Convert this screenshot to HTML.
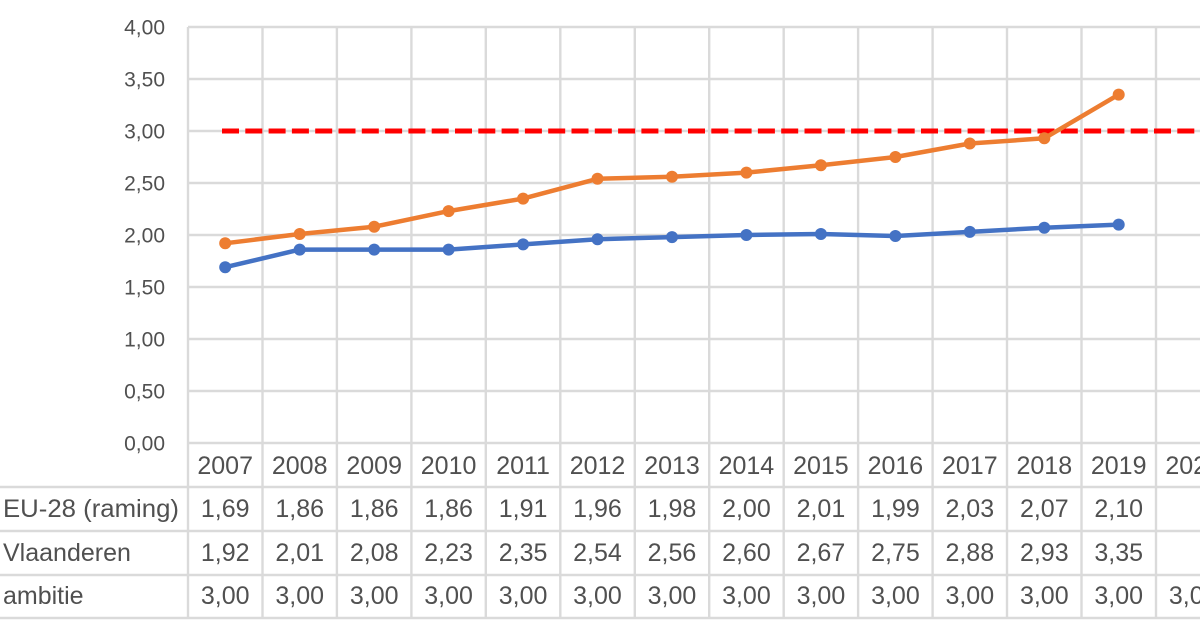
<!DOCTYPE html>
<html>
<head>
<meta charset="utf-8">
<style>
html,body{margin:0;padding:0;background:#fff;}
svg{display:block;}
text{font-family:"Liberation Sans",Arial,sans-serif;fill:#505050;}
</style>
</head>
<body>
<svg width="1200" height="630" viewBox="0 0 1200 630" xmlns="http://www.w3.org/2000/svg">
<rect width="1200" height="630" fill="#fff"/>
<g stroke="#dadada" stroke-width="2.4" fill="none">
  <line x1="188" y1="27" x2="1200" y2="27"/>
  <line x1="188" y1="79" x2="1200" y2="79"/>
  <line x1="188" y1="131" x2="1200" y2="131"/>
  <line x1="188" y1="183" x2="1200" y2="183"/>
  <line x1="188" y1="235" x2="1200" y2="235"/>
  <line x1="188" y1="287" x2="1200" y2="287"/>
  <line x1="188" y1="339" x2="1200" y2="339"/>
  <line x1="188" y1="391" x2="1200" y2="391"/>
  <line x1="188" y1="443" x2="1200" y2="443"/>
  <line x1="0" y1="487" x2="1200" y2="487"/>
  <line x1="0" y1="531" x2="1200" y2="531"/>
  <line x1="0" y1="575" x2="1200" y2="575"/>
  <line x1="0" y1="618" x2="1200" y2="618"/>
  <line x1="188" y1="27" x2="188" y2="618"/>
  <line x1="262.5" y1="27" x2="262.5" y2="618"/>
  <line x1="336.9" y1="27" x2="336.9" y2="618"/>
  <line x1="411.4" y1="27" x2="411.4" y2="618"/>
  <line x1="485.8" y1="27" x2="485.8" y2="618"/>
  <line x1="560.3" y1="27" x2="560.3" y2="618"/>
  <line x1="634.8" y1="27" x2="634.8" y2="618"/>
  <line x1="709.2" y1="27" x2="709.2" y2="618"/>
  <line x1="783.7" y1="27" x2="783.7" y2="618"/>
  <line x1="858.1" y1="27" x2="858.1" y2="618"/>
  <line x1="932.6" y1="27" x2="932.6" y2="618"/>
  <line x1="1007" y1="27" x2="1007" y2="618"/>
  <line x1="1081.5" y1="27" x2="1081.5" y2="618"/>
  <line x1="1156" y1="27" x2="1156" y2="618"/>
</g>

<g font-size="21" text-anchor="end">
  <text x="165" y="34.5">4,00</text>
  <text x="165" y="86.5">3,50</text>
  <text x="165" y="138.5">3,00</text>
  <text x="165" y="190.5">2,50</text>
  <text x="165" y="242.5">2,00</text>
  <text x="165" y="294.5">1,50</text>
  <text x="165" y="346.5">1,00</text>
  <text x="165" y="398.5">0,50</text>
  <text x="165" y="450.5">0,00</text>
</g>

<g fill="#4472C4">
<polyline fill="none" stroke="#4472C4" stroke-width="4.5" stroke-linejoin="round"
 points="225.2,267.2 299.7,249.6 374.2,249.6 448.6,249.6 523.1,244.4 597.5,239.2 672,237.1 746.4,235 820.9,234 895.4,236 969.8,231.9 1044.3,227.7 1118.7,224.6"/>
<circle cx="225.2" cy="267.2" r="6"/><circle cx="299.7" cy="249.6" r="6"/><circle cx="374.2" cy="249.6" r="6"/><circle cx="448.6" cy="249.6" r="6"/><circle cx="523.1" cy="244.4" r="6"/><circle cx="597.5" cy="239.2" r="6"/><circle cx="672" cy="237.1" r="6"/><circle cx="746.4" cy="235" r="6"/><circle cx="820.9" cy="234" r="6"/><circle cx="895.4" cy="236" r="6"/><circle cx="969.8" cy="231.9" r="6"/><circle cx="1044.3" cy="227.7" r="6"/><circle cx="1118.7" cy="224.6" r="6"/>
</g>

<line x1="222" y1="131" x2="1200" y2="131" stroke="#FF0000" stroke-width="5" stroke-dasharray="17 6.3"/>

<g fill="#ED7D31">
<polyline fill="none" stroke="#ED7D31" stroke-width="4.5" stroke-linejoin="round"
 points="225.2,243.3 299.7,234 374.2,226.7 448.6,211.1 523.1,198.6 597.5,178.8 672,176.8 746.4,172.6 820.9,165.3 895.4,157 969.8,143.5 1044.3,138.3 1118.7,94.6"/>
<circle cx="225.2" cy="243.3" r="6"/><circle cx="299.7" cy="234" r="6"/><circle cx="374.2" cy="226.7" r="6"/><circle cx="448.6" cy="211.1" r="6"/><circle cx="523.1" cy="198.6" r="6"/><circle cx="597.5" cy="178.8" r="6"/><circle cx="672" cy="176.8" r="6"/><circle cx="746.4" cy="172.6" r="6"/><circle cx="820.9" cy="165.3" r="6"/><circle cx="895.4" cy="157" r="6"/><circle cx="969.8" cy="143.5" r="6"/><circle cx="1044.3" cy="138.3" r="6"/><circle cx="1118.7" cy="94.6" r="6"/>
</g>

<g font-size="25" text-anchor="middle">
  <text x="225.2" y="474">2007</text><text x="299.7" y="474">2008</text><text x="374.2" y="474">2009</text><text x="448.6" y="474">2010</text><text x="523.1" y="474">2011</text><text x="597.5" y="474">2012</text><text x="672" y="474">2013</text><text x="746.4" y="474">2014</text><text x="820.9" y="474">2015</text><text x="895.4" y="474">2016</text><text x="969.8" y="474">2017</text><text x="1044.3" y="474">2018</text><text x="1118.7" y="474">2019</text><text x="1193.2" y="474">2020</text>
  <text x="225.2" y="517">1,69</text><text x="299.7" y="517">1,86</text><text x="374.2" y="517">1,86</text><text x="448.6" y="517">1,86</text><text x="523.1" y="517">1,91</text><text x="597.5" y="517">1,96</text><text x="672" y="517">1,98</text><text x="746.4" y="517">2,00</text><text x="820.9" y="517">2,01</text><text x="895.4" y="517">1,99</text><text x="969.8" y="517">2,03</text><text x="1044.3" y="517">2,07</text><text x="1118.7" y="517">2,10</text>
  <text x="225.2" y="561">1,92</text><text x="299.7" y="561">2,01</text><text x="374.2" y="561">2,08</text><text x="448.6" y="561">2,23</text><text x="523.1" y="561">2,35</text><text x="597.5" y="561">2,54</text><text x="672" y="561">2,56</text><text x="746.4" y="561">2,60</text><text x="820.9" y="561">2,67</text><text x="895.4" y="561">2,75</text><text x="969.8" y="561">2,88</text><text x="1044.3" y="561">2,93</text><text x="1118.7" y="561">3,35</text>
  <text x="225.2" y="604">3,00</text><text x="299.7" y="604">3,00</text><text x="374.2" y="604">3,00</text><text x="448.6" y="604">3,00</text><text x="523.1" y="604">3,00</text><text x="597.5" y="604">3,00</text><text x="672" y="604">3,00</text><text x="746.4" y="604">3,00</text><text x="820.9" y="604">3,00</text><text x="895.4" y="604">3,00</text><text x="969.8" y="604">3,00</text><text x="1044.3" y="604">3,00</text><text x="1118.7" y="604">3,00</text><text x="1193.2" y="604">3,00</text>
</g>
<g font-size="25">
  <text x="3" y="517" textLength="176" lengthAdjust="spacingAndGlyphs">EU-28 (raming)</text>
  <text x="3" y="561">Vlaanderen</text>
  <text x="3" y="604">ambitie</text>
</g>
</svg>
</body>
</html>
